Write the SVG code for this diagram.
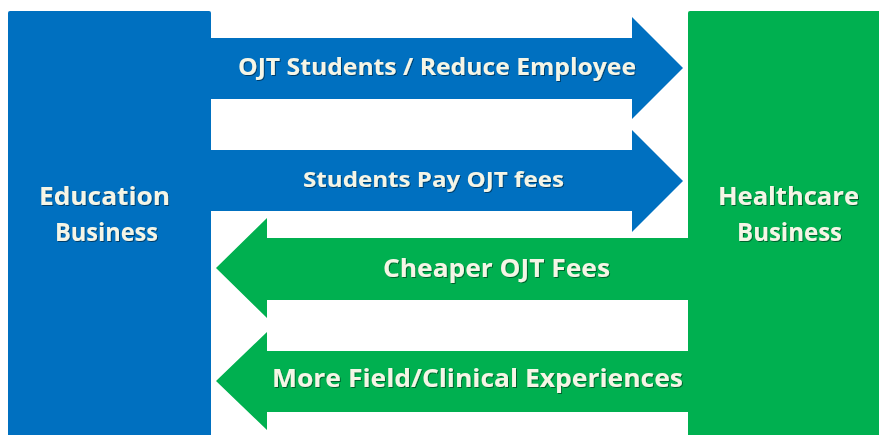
<svg xmlns="http://www.w3.org/2000/svg" width="879" height="435" viewBox="0 0 879 435">
<defs>
<style>
.blue{fill:#0070C0}
.green{fill:#00B050}
.t{font-family:"Open Sans","Liberation Sans",sans-serif;font-weight:bold;fill:#F5F5E6}
</style>
<filter id="sh" x="-5%" y="-20%" width="110%" height="140%">
<feDropShadow dx="1" dy="1" stdDeviation="0.6" flood-color="#000" flood-opacity="0.45"/>
</filter>
</defs>
<rect width="879" height="435" fill="#FFFFFF"/>
<g id="education">
<rect class="blue" x="8" y="11" width="203" height="430" rx="2"/>
<text class="t" filter="url(#sh)" x="39" y="205" font-size="25" textLength="131" lengthAdjust="spacingAndGlyphs">Education</text>
<text class="t" filter="url(#sh)" x="55" y="241" font-size="25" textLength="103" lengthAdjust="spacingAndGlyphs">Business</text>
</g>
<g id="healthcare">
<rect class="green" x="688" y="11" width="200" height="430" rx="2"/>
<text class="t" filter="url(#sh)" x="718" y="205" font-size="25" textLength="141" lengthAdjust="spacingAndGlyphs">Healthcare</text>
<text class="t" filter="url(#sh)" x="737" y="241" font-size="25" textLength="105" lengthAdjust="spacingAndGlyphs">Business</text>
</g>
<g id="connectors">
<g id="arrow1">
<polygon class="blue" points="211,38 632,38 632,17 683,68 632,119 632,99 211,99"/>
<text class="t" filter="url(#sh)" x="238" y="75" font-size="23" textLength="398" lengthAdjust="spacingAndGlyphs">OJT Students / Reduce Employee</text>
</g>
<g id="arrow2">
<polygon class="blue" points="211,150 632,150 632,130 683,181 632,232 632,211 211,211"/>
<text class="t" filter="url(#sh)" x="303" y="187" font-size="22" textLength="261" lengthAdjust="spacingAndGlyphs">Students Pay  OJT fees</text>
</g>
<g id="arrow3">
<polygon class="green" points="688,238 267,238 267,218 216,268 267,318 267,300 688,300"/>
<text class="t" filter="url(#sh)" x="383" y="277" font-size="25" textLength="227" lengthAdjust="spacingAndGlyphs">Cheaper OJT Fees</text>
</g>
<g id="arrow4">
<polygon class="green" points="688,351 267,351 267,332 216,381 267,430 267,412 688,412"/>
<text class="t" filter="url(#sh)" x="272" y="387" font-size="25" textLength="411" lengthAdjust="spacingAndGlyphs">More Field/Clinical Experiences</text>
</g>
</g>
</svg>
